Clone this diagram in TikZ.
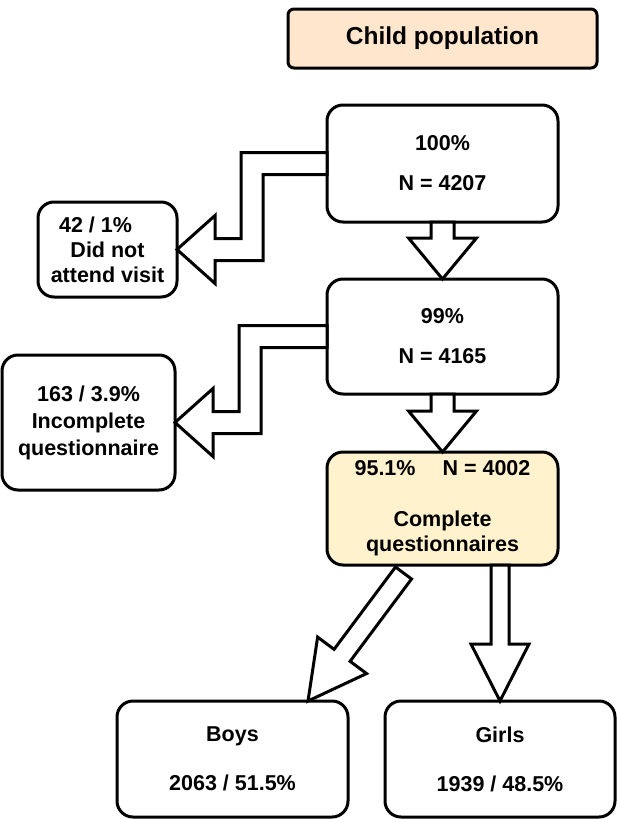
\documentclass[tikz,border=0pt]{standalone}
\usepackage{fontspec}
\setmainfont{Liberation Sans}
\usetikzlibrary{positioning, calc}

\definecolor{peach}{HTML}{FFE6CC}
\definecolor{cream}{HTML}{FFF2CC}

% hollow block arrow from #1 to tip #2 (shaft half width, head half width, head length)
\newcommand{\blockarrow}[5]{%
  \coordinate (ba-h) at ($(#2)!#5!(#1)$);
  \path [blockline] ($(#1)!#3!90:(#2)$) -- ($(ba-h)!#3!90:(#2)$) -- ($(ba-h)!#4!90:(#2)$) -- (#2)
    -- ($(ba-h)!#4!-90:(#2)$) -- ($(ba-h)!#3!-90:(#2)$) -- ($(#1)!#3!-90:(#2)$) -- cycle;}

% hollow elbow arrow from the west side of #1 to the east side of #2
\newcommand{\elbowarrow}[2]{%
  \coordinate (ea-t) at (#2.east);
  \coordinate (ea-k) at ($(#2.east)+(75,0)$);
  \path [blockline] ($(#1.west)+(0,11)$) -- ($(ea-k |- #1.west)+(-11,11)$) -- ($(ea-k |- ea-t)+(-11,11)$)
    -- ($(ea-t)+(38,11)$) -- ($(ea-t)+(38,34)$) -- (ea-t) -- ($(ea-t)+(38,-34)$) -- ($(ea-t)+(38,-11)$)
    -- ($(ea-k |- ea-t)+(11,-11)$) -- ($(ea-k |- #1.west)+(11,-11)$) -- ($(#1.west)+(0,-11)$) -- cycle;}

\begin{document}
\begin{tikzpicture}[x=1pt, y=1pt, node distance=57pt]
    \tikzstyle{box} = [rectangle, draw, line width=3pt, rounded corners=16pt, align=center, inner sep=0pt, outer sep=0pt, font=\bfseries\fontsize{21.5}{25}\selectfont]
    \tikzstyle{mainbox} = [box, minimum width=231pt]
    \tikzstyle{title} = [box, fill=peach, rounded corners=6pt, minimum width=309pt, minimum height=59pt, font=\bfseries\fontsize{24.5}{28}\selectfont]
    \tikzstyle{blockline} = [draw, fill=white, line width=3pt]

    \useasboundingbox (0,0) rectangle (617,-819);

    \node [mainbox, minimum height=117pt] (total) at (442.5,-163.5) {100\%\\[15pt]N = 4207};
    \node [title, above=37pt of total] (population) {Child population};
    \node [mainbox, minimum height=115pt, below=57pt of total] (attended) {99\%\\[15pt]N = 4165};
    \node [mainbox, minimum height=113pt, fill=cream, below=58pt of attended] (complete) {95.1\%\hspace{27pt}N = 4002\\[26pt]Complete\\questionnaires};
    \node [box, minimum width=139pt, minimum height=95pt] (absent) at (107.5,-249.5) {42 / 1\%\hspace*{24pt}\\Did not\\attend visit};
    \node [box, minimum width=173pt, minimum height=135pt] (incomplete) at (88.5,-422.5) {163 / 3.9\%\\[2pt]Incomplete\\[2pt]questionnaire};
    \node [box, minimum width=231pt, minimum height=116pt] (boys) at (232.5,-759) {Boys\\[24pt]2063 / 51.5\%};
    \node [box, minimum width=230pt, minimum height=116pt, right=37pt of boys] (girls) {Girls\\[24pt]1939 / 48.5\%};

    \elbowarrow{total}{absent}
    \elbowarrow{attended}{incomplete}
    \blockarrow{total.south}{attended.north}{11.5pt}{34pt}{41pt}
    \blockarrow{attended.south}{complete.north}{11.5pt}{34pt}{41pt}
    \coordinate (boys-tail) at ($(complete.south)+(-39,-8)$);
    \coordinate (boys-tip) at ($(boys.north)+(75.5,0)$);
    \blockarrow{boys-tail}{boys-tip}{10pt}{30.5pt}{57pt}
    \coordinate (girls-tail) at (girls.north |- complete.south);
    \blockarrow{girls-tail}{girls.north}{9pt}{29pt}{57pt}
\end{tikzpicture}
\end{document}
